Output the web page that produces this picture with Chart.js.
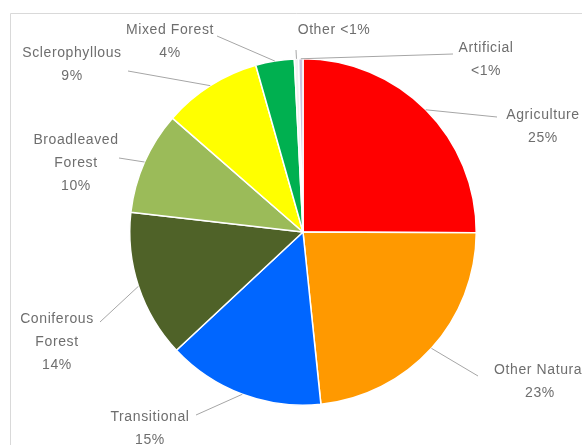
<!DOCTYPE html>
<html>
<head>
<meta charset="utf-8">
<script src="https://cdn.jsdelivr.net/npm/chart.js@4.4.0/dist/chart.umd.min.js"></script>
<style>
  html, body { margin: 0; padding: 0; background: #fff; }
  #wrap { width: 582px; height: 445px; position: relative; }
</style>
</head>
<body>
<div id="wrap"><canvas id="landCover"></canvas></div>
<script>
const categories = ['Agriculture', 'Other Natural', 'Transitional', 'Coniferous Forest',
  'Broadleaved Forest', 'Sclerophyllous', 'Mixed Forest', 'Other', 'Artificial'];
const shares = [25.1, 23.3, 14.7, 13.8, 9.6, 9.2, 3.6, 0.4, 0.4];
const sliceColors = ['#ff0000', '#ff9900', '#0066ff', '#4f6228', '#9bbb59',
  '#ffff00', '#00b050', '#f2f2f2', '#ccc0da'];
// how each category name is broken over lines in its label
const labelLines = [['Agriculture'], ['Other Natural'], ['Transitional'], ['Coniferous', 'Forest'],
  ['Broadleaved', 'Forest'], ['Sclerophyllous'], ['Mixed Forest'], ['Other'], ['Artificial']];

// label placement: text centre x, first line y, and where the leader line leaves the label
const labelBoxes = [
  { x: 543, y: 115, lx: 497, ly: 117 },
  { x: 540, y: 370, lx: 478, ly: 376 },
  { x: 150, y: 417, lx: 196, ly: 415 },
  { x: 57, y: 319, lx: 100, ly: 322 },
  { x: 76, y: 140, lx: 119, ly: 158 },
  { x: 72, y: 53, lx: 128, ly: 71 },
  { x: 170, y: 30, lx: 217, ly: 36 },
  { x: 334, y: 30, lx: 296, ly: 50, inline: true },
  { x: 486, y: 48, lx: 453, ly: 54 }
];

function pctText(v, total) {
  const p = v / total * 100;
  return p < 1 ? '<1%' : Math.round(p) + '%';
}

const calloutPlugin = {
  id: 'callouts',
  beforeDraw(chart) {
    const c = chart.ctx;
    c.save();
    c.strokeStyle = '#d9d9d9';
    c.lineWidth = 1;
    c.beginPath();
    c.moveTo(10.5, 445);
    c.lineTo(10.5, 13.5);
    c.lineTo(582, 13.5);
    c.stroke();
    c.restore();
  },
  afterDraw(chart) {
    const c = chart.ctx;
    const meta = chart.getDatasetMeta(0);
    const data = chart.data.datasets[0].data;
    const total = data.reduce((a, b) => a + b, 0);
    c.save();
    c.font = '14px "Liberation Sans", sans-serif';
    c.letterSpacing = '0.6px';
    c.textAlign = 'center';
    c.textBaseline = 'middle';
    meta.data.forEach((arc, i) => {
      const p = arc.getProps(['x', 'y', 'startAngle', 'endAngle', 'outerRadius'], true);
      const mid = (p.startAngle + p.endAngle) / 2;
      const ex = p.x + Math.cos(mid) * p.outerRadius;
      const ey = p.y + Math.sin(mid) * p.outerRadius;
      const box = labelBoxes[i];
      c.strokeStyle = '#a6a6a6';
      c.lineWidth = 1;
      c.beginPath();
      c.moveTo(box.lx, box.ly);
      c.lineTo(ex, ey);
      c.stroke();
      let lines = labelLines[i].slice();
      const pt = pctText(data[i], total);
      if (box.inline) lines[lines.length - 1] += ' ' + pt; else lines.push(pt);
      c.fillStyle = '#6e6e6e';
      lines.forEach((t, k) => c.fillText(t, box.x, box.y + k * 23));
    });
    c.restore();
  }
};

new Chart(document.getElementById('landCover'), {
  type: 'pie',
  data: {
    labels: categories,
    datasets: [{
      data: shares,
      backgroundColor: sliceColors,
      borderColor: '#ffffff',
      borderWidth: 1.5
    }]
  },
  options: {
    responsive: true,
    maintainAspectRatio: false,
    animation: false,
    layout: { padding: { top: 58, bottom: 39, left: 129, right: 105 } },
    plugins: { legend: { display: false }, tooltip: { enabled: false } }
  },
  plugins: [calloutPlugin]
});
</script>
</body>
</html>
